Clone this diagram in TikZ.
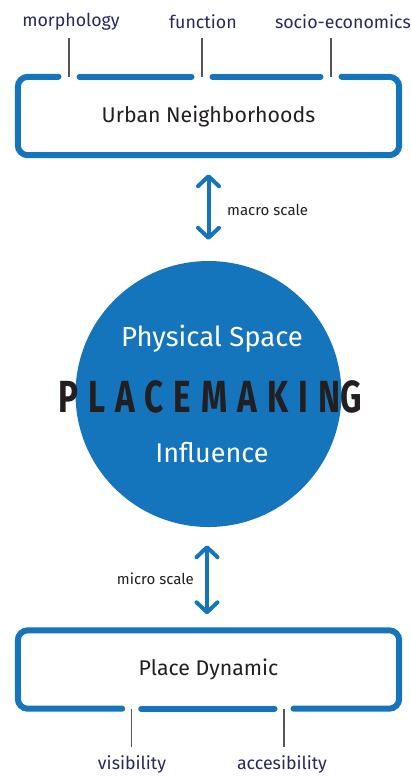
\documentclass[tikz,border=0pt]{standalone}
\usepackage{fontspec}
\setmainfont{Fira Sans}
\usetikzlibrary{arrows.meta,calc}
\definecolor{pblue}{RGB}{20,117,188}
\definecolor{navy}{RGB}{40,40,95}
\definecolor{ink}{RGB}{35,31,32}
\definecolor{tickgray}{RGB}{85,85,85}
\begin{document}
\begin{tikzpicture}[x=1pt,y=-1pt,
  frame/.style={draw=pblue,line width=6pt,line cap=round,rounded corners=10pt},
  boxnode/.style={minimum width=381pt,minimum height=78pt,inner sep=0pt,text=ink,font=\fontsize{21.3}{24}\selectfont},
  lab/.style={text=navy,font=\fontsize{17.8}{20}\selectfont,inner sep=0pt},
  scalelab/.style={text=ink,font=\fontsize{15}{18}\selectfont,inner sep=0pt},
  tickline/.style={draw=tickgray,line width=1.5pt},
  biarrow/.style={draw=pblue,line width=4pt,{Straight Barb[length=10pt,width=21pt,round]}-{Straight Barb[length=10pt,width=21pt,round]}}
]
\useasboundingbox (0,0) rectangle (411,777);
% top box
\node[boxnode] (ub) at (208.5,116) {Urban Neighborhoods};
\node[lab] (morph) at (71,22) {morphology};
\node[lab] (func) at (203,22) {function};
\node[lab] (socio) at (343,22) {socio-economics};
\coordinate (t1) at (69,38);
\coordinate (t2) at (202,38);
\coordinate (t3) at (331,38);
\draw[tickline] (t1) -- (t1 |- ub.north);
\draw[tickline] (t2) -- (t2 |- ub.north);
\draw[tickline] (t3) -- (t3 |- ub.north);
\draw[frame] ($(t1 |- ub.north)+(-10.5,0)$) -- (ub.north west) -- (ub.south west) -- (ub.south east) -- (ub.north east) -- ($(t3 |- ub.north)+(10.5,0)$);
\draw[frame] ($(t1 |- ub.north)+(10.5,0)$) -- ($(t2 |- ub.north)+(-10.5,0)$);
\draw[frame] ($(t2 |- ub.north)+(10.5,0)$) -- ($(t3 |- ub.north)+(-10.5,0)$);
% circle
\node[circle,fill=pblue,minimum size=266pt,inner sep=0pt] (pm) at (208.5,394) {};
\node[text=white,font=\fontsize{27.5}{30}\selectfont] (phys) at (212,339) {Physical Space};
\node[text=ink,inner sep=0pt] (place) at (210,397) {\scalebox{0.74}[1]{\fontsize{45}{48}\bfseries\addfontfeature{LetterSpace=30}PLACEMAKIN\kern0ptG}};
\node[text=white,font=\fontsize{27}{30}\selectfont] (infl) at (212,453) {Influence};
% macro arrow
\draw[biarrow] ($(ub.south)+(0,19)$) -- ($(pm.north)+(0,-21)$);
\node[scalelab,anchor=west] (macro) at (227,210) {macro scale};
% bottom box
\node[boxnode] (pd) at (208.5,669.5) {Place Dynamic};
\draw[biarrow] ($(pm.south)+(-1.5,18)$) -- ($(pd.north)+(-1.5,-16)$);
\node[scalelab,anchor=east] (micro) at (194,579) {micro scale};
\coordinate (b1) at (131.7,747);
\coordinate (b2) at (284,747);
\draw[tickline] (b1) -- (b1 |- pd.south);
\draw[tickline] (b2) -- (b2 |- pd.south);
\node[lab] (vis) at (132,764) {visibility};
\node[lab] (acc) at (282,764) {accesibility};
\draw[frame] ($(b1 |- pd.south)+(-9.5,0)$) -- (pd.south west) -- (pd.north west) -- (pd.north east) -- (pd.south east) -- ($(b2 |- pd.south)+(9.5,0)$);
\draw[frame] ($(b1 |- pd.south)+(9.5,0)$) -- ($(b2 |- pd.south)+(-9.5,0)$);
\end{tikzpicture}
\end{document}
